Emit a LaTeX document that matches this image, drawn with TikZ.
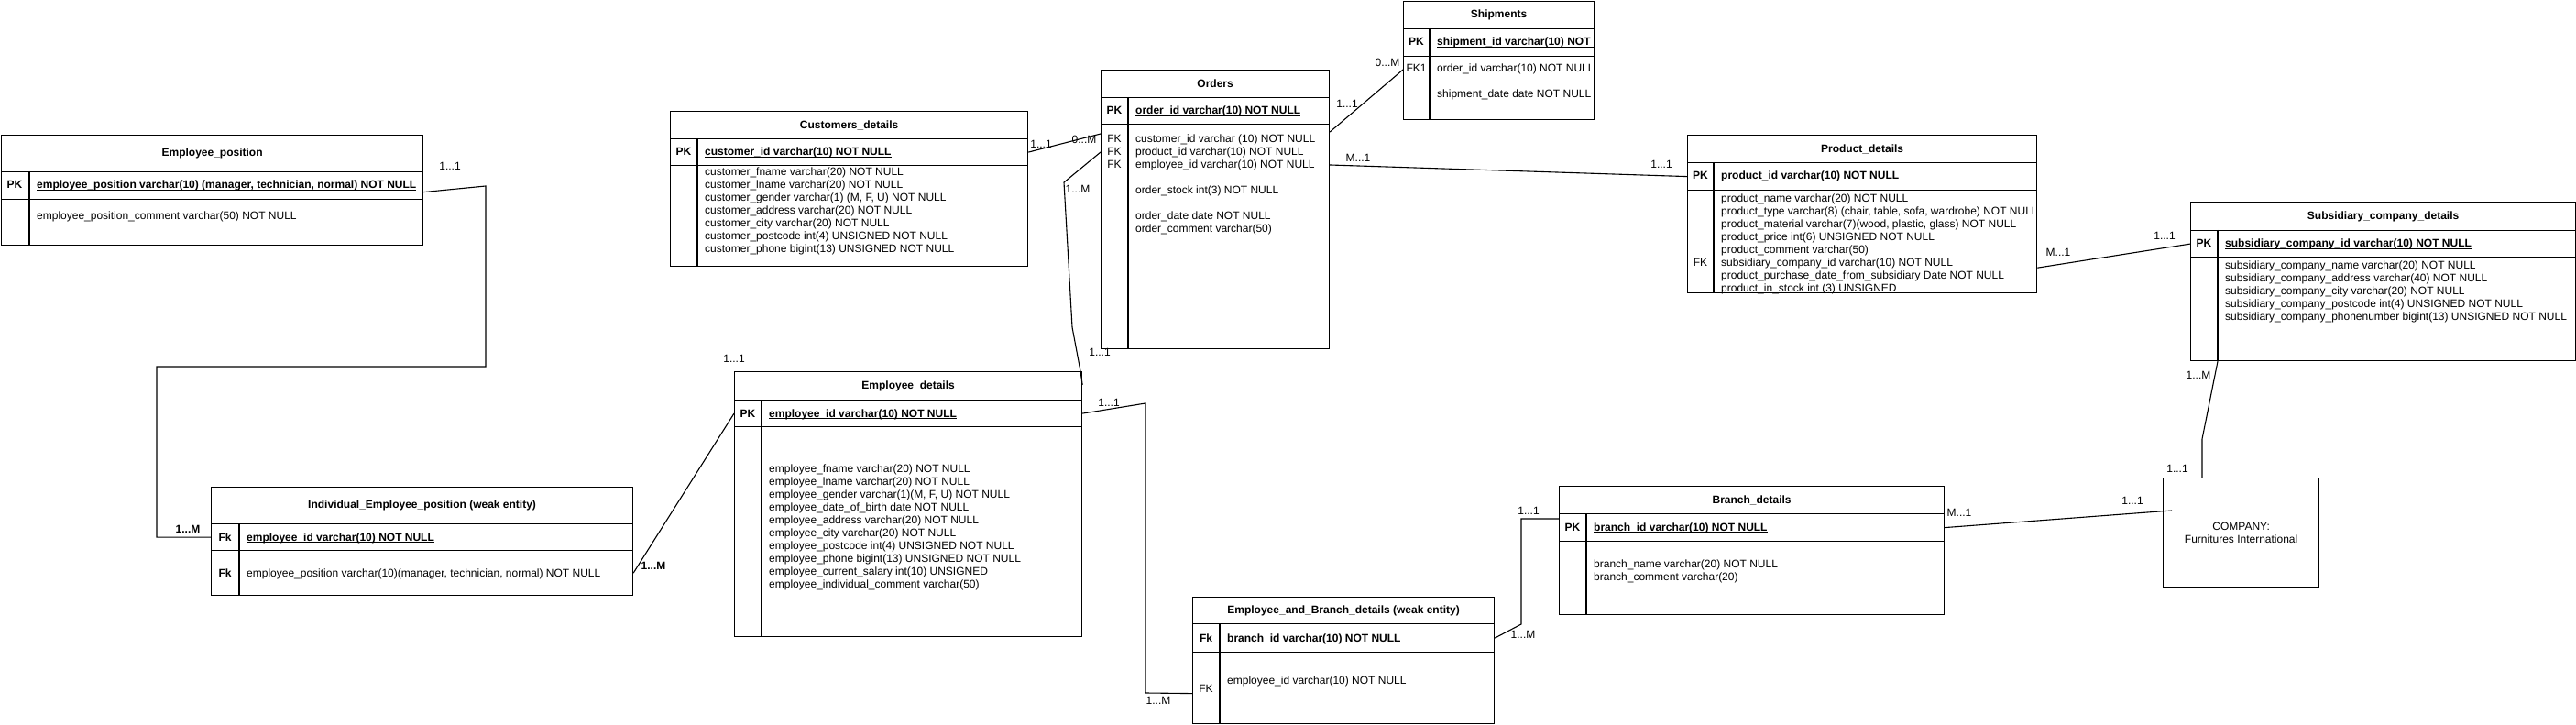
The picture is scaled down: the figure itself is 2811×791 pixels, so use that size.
\documentclass[tikz,border=0pt]{standalone}
\usepackage{fontspec}
\setmainfont{Liberation Sans}
\usetikzlibrary{calc}
\newsavebox{\pkbox}
\newcommand{\pkfield}[1]{\sbox{\pkbox}{#1}\rlap{\rule[-2pt]{\wd\pkbox}{0.9pt}}\usebox{\pkbox}}

\begin{document}
\begin{tikzpicture}[x=1pt,y=1pt,yscale=-1,xscale=1,
	font=\fontsize{12}{14}\selectfont,
	cell/.style={draw, line width=1.2pt, inner sep=0pt, anchor=north west},
	ttl/.style={cell, font=\fontsize{12}{14}\selectfont\bfseries},
	keytxt/.style={anchor=base, inner sep=0pt, font=\fontsize{12}{14}\selectfont\bfseries},
	fktxt/.style={anchor=base, inner sep=0pt},
	pktxt/.style={anchor=base west, inner sep=0pt, font=\fontsize{12}{14}\selectfont\bfseries},
	bodytxt/.style={anchor=north west, inner sep=0pt, align=left},
	divline/.style={line width=1.2pt},
	conn/.style={line width=1.1pt},
	card/.style={inner sep=0pt},
	cardb/.style={inner sep=0pt, font=\fontsize{12}{14}\selectfont\bfseries}]
		\useasboundingbox (0,0) rectangle (2811,791);
		
		%Shape: Table [Employee_position]
		\node [ttl, minimum width=460, minimum height=40] (epT) at (1,147) {Employee\_position};
		\node [cell, minimum width=460, minimum height=30] (epK) at (1,187) {};
		\node [cell, minimum width=460, minimum height=50] (epB) at (1,217) {};
		\draw [divline] ($(epK.north west)+(31,0)$) -- ($(epB.south west)+(31,0)$) ;
		% Text Node
		\node [keytxt] (epPK) at (16,206) {PK};
		\node [pktxt] (epId) at (40,206) {\pkfield{employee\_position varchar(10) (manager, technician, normal) NOT NULL}};
		\node [bodytxt] (epAttr) at (40,231) {employee\_position\_comment varchar(50) NOT NULL};
		
		%Shape: Table [Customers_details]
		\node [ttl, minimum width=390, minimum height=30] (cuT) at (731,121) {Customers\_details};
		\node [cell, minimum width=390, minimum height=29] (cuK) at (731,151) {};
		\node [cell, minimum width=390, minimum height=110] (cuB) at (731,180) {};
		\draw [divline] ($(cuK.north west)+(30,0)$) -- ($(cuB.south west)+(30,0)$) ;
		% Text Node
		\node [keytxt] (cuPK) at (746,170) {PK};
		\node [pktxt] (cuId) at (769,170) {\pkfield{customer\_id varchar(10) NOT NULL}};
		\node [bodytxt] (cuAttr) at (769,183) {customer\_fname varchar(20) NOT NULL\\customer\_lname varchar(20) NOT NULL\\customer\_gender varchar(1) (M, F, U) NOT NULL\\customer\_address varchar(20) NOT NULL\\customer\_city varchar(20) NOT NULL\\customer\_postcode int(4) UNSIGNED NOT NULL\\customer\_phone bigint(13) UNSIGNED NOT NULL};
		
		%Shape: Table [Orders]
		\node [ttl, minimum width=249, minimum height=30] (orT) at (1201,76) {Orders};
		\node [cell, minimum width=249, minimum height=29] (orK) at (1201,106) {};
		\node [cell, minimum width=249, minimum height=245] (orB) at (1201,135) {};
		\draw [divline] ($(orK.north west)+(30,0)$) -- ($(orB.south west)+(30,0)$) ;
		% Text Node
		\node [keytxt] (orPK) at (1216,125) {PK};
		\node [pktxt] (orId) at (1239,125) {\pkfield{order\_id varchar(10) NOT NULL}};
		\node [fktxt] (orFKa) at (1216,156) {FK};
		\node [fktxt] (orFKb) at (1216,170) {FK};
		\node [fktxt] (orFKc) at (1216,184) {FK};
		\node [bodytxt] (orAttr) at (1239,147) {customer\_id varchar (10) NOT NULL\\product\_id varchar(10) NOT NULL\\employee\_id varchar(10) NOT NULL\\[14pt]order\_stock int(3) NOT NULL\\[14pt]order\_date date NOT NULL\\order\_comment varchar(50)};
		
		%Shape: Table [Shipments]
		\node [ttl, minimum width=208, minimum height=30] (shT) at (1531,1) {Shipments};
		\node [cell, minimum width=208, minimum height=30] (shK) at (1531,31) {};
		\node [cell, minimum width=208, minimum height=69] (shB) at (1531,61) {};
		\draw [divline] ($(shK.north west)+(29,0)$) -- ($(shB.south west)+(29,0)$) ;
		% Text Node
		\node [keytxt] (shPK) at (1545.5,50) {PK};
		\node [fktxt] (shFK) at (1545.5,79) {FK1};
		\begin{scope}
			\clip (shK.north west) rectangle (shB.south east);
			\node [pktxt] (shId) at (1568,50) {\pkfield{shipment\_id varchar(10) NOT NULL}};
			\node [bodytxt] (shAttr) at (1568,70) {order\_id varchar(10) NOT NULL\\[14pt]shipment\_date date NOT NULL};
		\end{scope}
		
		%Shape: Table [Product_details]
		\node [ttl, minimum width=381, minimum height=30] (prT) at (1841,147) {Product\_details};
		\node [cell, minimum width=381, minimum height=30] (prK) at (1841,177) {};
		\node [cell, minimum width=381, minimum height=112] (prB) at (1841,207) {};
		\draw [divline] ($(prK.north west)+(29,0)$) -- ($(prB.south west)+(29,0)$) ;
		% Text Node
		\node [keytxt] (prPK) at (1855.5,196) {PK};
		\node [pktxt] (prId) at (1878,196) {\pkfield{product\_id varchar(10) NOT NULL}};
		\node [fktxt] (prFK) at (1855.5,291) {FK};
		\begin{scope}
			\clip (prB.north west) rectangle (prB.south east);
			\node [bodytxt] (prAttr) at (1878,212) {product\_name varchar(20) NOT NULL\\product\_type varchar(8) (chair, table, sofa, wardrobe) NOT NULL\\product\_material varchar(7)(wood, plastic, glass) NOT NULL\\product\_price int(6) UNSIGNED NOT NULL\\product\_comment varchar(50)\\subsidiary\_company\_id varchar(10) NOT NULL\\product\_purchase\_date\_from\_subsidiary Date NOT NULL\\product\_in\_stock int (3) UNSIGNED};
		\end{scope}
		
		%Shape: Table [Subsidiary_company_details]
		\node [ttl, minimum width=420, minimum height=31] (sbT) at (2390,220) {Subsidiary\_company\_details};
		\node [cell, minimum width=420, minimum height=29] (sbK) at (2390,251) {};
		\node [cell, minimum width=420, minimum height=113] (sbB) at (2390,280) {};
		\draw [divline] ($(sbK.north west)+(30,0)$) -- ($(sbB.south west)+(30,0)$) ;
		% Text Node
		\node [keytxt] (sbPK) at (2405,270) {PK};
		\node [pktxt] (sbId) at (2428,270) {\pkfield{subsidiary\_company\_id varchar(10) NOT NULL}};
		\begin{scope}
			\clip (sbB.north west) rectangle (sbB.south east);
			\node [bodytxt] (sbAttr) at (2428,285) {subsidiary\_company\_name varchar(20) NOT NULL\\subsidiary\_company\_address varchar(40) NOT NULL\\subsidiary\_company\_city varchar(20) NOT NULL\\subsidiary\_company\_postcode int(4) UNSIGNED NOT NULL\\subsidiary\_company\_phonenumber bigint(13) UNSIGNED NOT NULL};
		\end{scope}
		
		%Shape: Table [Employee_details]
		\node [ttl, minimum width=379, minimum height=31] (edT) at (801,405) {Employee\_details};
		\node [cell, minimum width=379, minimum height=29] (edK) at (801,436) {};
		\node [cell, minimum width=379, minimum height=229] (edB) at (801,465) {};
		\draw [divline] ($(edK.north west)+(30,0)$) -- ($(edB.south west)+(30,0)$) ;
		% Text Node
		\node [keytxt] (edPK) at (816,455) {PK};
		\node [pktxt] (edId) at (839,455) {\pkfield{employee\_id varchar(10) NOT NULL}};
		\node [bodytxt] (edAttr) at (839,507) {employee\_fname varchar(20) NOT NULL\\employee\_lname varchar(20) NOT NULL\\employee\_gender varchar(1)(M, F, U) NOT NULL\\employee\_date\_of\_birth date NOT NULL\\employee\_address varchar(20) NOT NULL\\employee\_city varchar(20) NOT NULL\\employee\_postcode int(4) UNSIGNED NOT NULL\\employee\_phone bigint(13) UNSIGNED NOT NULL\\employee\_current\_salary int(10) UNSIGNED\\employee\_individual\_comment varchar(50)};
		
		%Shape: Table [Individual_Employee_position]
		\node [ttl, minimum width=460, minimum height=40] (ieT) at (230,531) {Individual\_Employee\_position (weak entity)};
		\node [cell, minimum width=460, minimum height=29] (ieK) at (230,571) {};
		\node [cell, minimum width=460, minimum height=49] (ieB) at (230,600) {};
		\draw [divline] ($(ieK.north west)+(31,0)$) -- ($(ieB.south west)+(31,0)$) ;
		% Text Node
		\node [keytxt] (ieFKa) at (245.5,590) {Fk};
		\node [pktxt] (ieId) at (269,590) {\pkfield{employee\_id varchar(10) NOT NULL}};
		\node [keytxt] (ieFKb) at (245.5,629) {Fk};
		\node [fktxt, anchor=base west] (iePos) at (269,629) {employee\_position varchar(10)(manager, technician, normal) NOT NULL};
		
		%Shape: Table [Employee_and_Branch_details]
		\node [ttl, minimum width=329, minimum height=29] (ebT) at (1301,651) {Employee\_and\_Branch\_details (weak entity)};
		\node [cell, minimum width=329, minimum height=31] (ebK) at (1301,680) {};
		\node [cell, minimum width=329, minimum height=78] (ebB) at (1301,711) {};
		\draw [divline] ($(ebK.north west)+(30,0)$) -- ($(ebB.south west)+(30,0)$) ;
		% Text Node
		\node [keytxt] (ebFKa) at (1316,700) {Fk};
		\node [pktxt] (ebId) at (1339,700) {\pkfield{branch\_id varchar(10) NOT NULL}};
		\node [fktxt] (ebFKb) at (1316,755) {FK};
		\node [fktxt, anchor=base west] (ebEmp) at (1339,746) {employee\_id varchar(10) NOT NULL};
		
		%Shape: Table [Branch_details]
		\node [ttl, minimum width=420, minimum height=30] (brT) at (1701,530) {Branch\_details};
		\node [cell, minimum width=420, minimum height=30] (brK) at (1701,560) {};
		\node [cell, minimum width=420, minimum height=80] (brB) at (1701,590) {};
		\draw [divline] ($(brK.north west)+(30,0)$) -- ($(brB.south west)+(30,0)$) ;
		% Text Node
		\node [keytxt] (brPK) at (1716,579) {PK};
		\node [pktxt] (brId) at (1739,579) {\pkfield{branch\_id varchar(10) NOT NULL}};
		\node [bodytxt] (brAttr) at (1739,611) {branch\_name varchar(20) NOT NULL\\branch\_comment varchar(20)};
		
		%Shape: Rectangle [COMPANY]
		\node [cell, minimum width=170, minimum height=119, align=center] (coBox) at (2360,521) {COMPANY:\\Furnitures International};
		
		%Straight Lines [Employee_position - Individual_Employee_position]
		\coordinate (epA) at (530,203);
		\coordinate (epB2) at (530,400);
		\coordinate (epC) at (171,400);
		\draw [conn] ($(epK.east)+(0,7)$) -- (epA) -- (epB2) -- (epC) -- (epC |- ieK.west) -- (ieK.west) ;
		\node [card] (c1a) at (491,181) {1...1};
		\node [cardb] (c1b) at (205,577) {1...M};
		%Straight Lines [Individual_Employee_position - Employee_details]
		\draw [conn] (ieB.east) -- (edK.west) ;
		\node [cardb] (c2a) at (713,617) {1...M};
		\node [card] (c2b) at (801,391) {1...1};
		%Straight Lines [Customers_details - Orders]
		\draw [conn] (cuK.east) -- ($(orB.north west)+(0,11)$) ;
		\node [card] (c3a) at (1136,157) {1...1};
		\node [card] (c3b) at (1183,152) {0...M};
		%Straight Lines [Orders - Employee_details]
		\coordinate (orA) at (1161,199);
		\coordinate (orB2) at (1170,357);
		\coordinate (orC) at (1179,405);
		\draw [conn] ($(orB.north west)+(0,31)$) -- (orA) -- (orB2) -- (orC) -- ($(edT.north east)+(0,15)$) ;
		\node [card] (c4a) at (1176,206) {1...M};
		\node [card] (c4b) at (1200,384) {1...1};
		%Straight Lines [Orders - Shipments]
		\draw [conn] ($(orB.north east)+(0,9)$) -- ($(shB.north west)+(0,15)$) ;
		\node [card] (c5a) at (1470,113) {1...1};
		\node [card] (c5b) at (1514,68) {0...M};
		%Straight Lines [Orders - Product_details]
		\draw [conn] ($(orB.north east)+(0,45)$) -- (prK.west) ;
		\node [card] (c6a) at (1482,172) {M...1};
		\node [card] (c6b) at (1813,179) {1...1};
		%Straight Lines [Product_details - Subsidiary_company_details]
		\draw [conn] ($(prB.south east)+(0,-28)$) -- (sbK.west) ;
		\node [card] (c7a) at (2246,275) {M...1};
		\node [card] (c7b) at (2362,257) {1...1};
		%Straight Lines [Subsidiary_company_details - COMPANY]
		\coordinate (sbA) at (2403,479);
		\draw [conn] ($(sbB.south west)+(30,0)$) -- (sbA) -- ($(coBox.north west)+(43,0)$) ;
		\node [card] (c8a) at (2399,409) {1...M};
		\node [card] (c8b) at (2376,511) {1...1};
		%Straight Lines [Branch_details - COMPANY]
		\draw [conn] (brK.east) -- ($(coBox.north west)+(10,36)$) ;
		\node [card] (c9a) at (2138,559) {M...1};
		\node [card] (c9b) at (2327,546) {1...1};
		%Straight Lines [Employee_and_Branch_details - Branch_details]
		\coordinate (ebA) at (1660,681);
		\coordinate (ebC) at (1660,566);
		\draw [conn] (ebK.east) -- (ebA) -- (ebC) -- ($(brK.north west)+(0,6)$) ;
		\node [card] (c10a) at (1668,557) {1...1};
		\node [card] (c10b) at (1662,692) {1...M};
		%Straight Lines [Employee_details - Employee_and_Branch_details]
		\coordinate (edA) at (1250,440);
		\coordinate (edC) at (1250,756);
		\draw [conn] (edK.east) -- (edA) -- (edC) -- ($(ebB.west)+(0,6)$) ;
		\node [card] (c11a) at (1210,439) {1...1};
		\node [card] (c11b) at (1264,764) {1...M};
		
	\end{tikzpicture}
\end{document}
